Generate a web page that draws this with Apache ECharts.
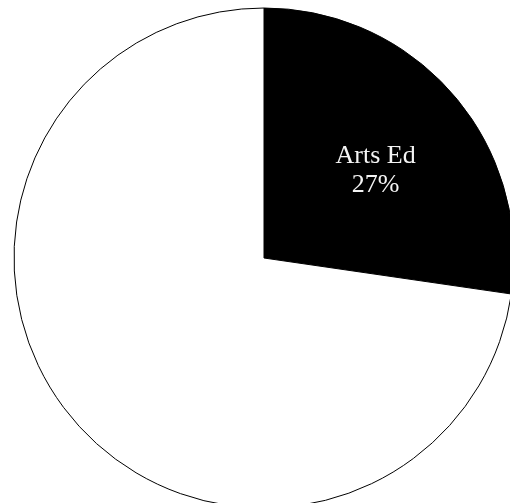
<!DOCTYPE html>
<html>
<head>
<meta charset="utf-8">
<script src="https://cdn.jsdelivr.net/npm/echarts@6/dist/echarts.min.js"></script>
<style>
html,body{margin:0;padding:0;background:#fff;}
#chart{width:510px;height:503px;}
</style>
</head>
<body>
<div id="chart"></div>
<script>
var categories = ['Arts Ed', 'Other'];
var values = [27.3, 72.7];
var fills = ['#000000', '#ffffff'];
var showLabel = [true, false];

var total = values.reduce(function (a, b) { return a + b; }, 0);
var pieData = categories.map(function (c, i) {
  return { name: c, value: values[i], itemStyle: { color: fills[i] } };
});
var labelData = categories.map(function (c, i) {
  return { name: c, value: values[i], label: { show: showLabel[i] } };
});

var chart = echarts.init(document.getElementById('chart'), null, { renderer: 'canvas' });
chart.setOption({
  animation: false,
  backgroundColor: '#ffffff',
  series: [
    {
      type: 'pie',
      center: [264, 258],
      radius: [0, 250],
      startAngle: 90,
      clockwise: true,
      silent: true,
      label: { show: false },
      labelLine: { show: false },
      itemStyle: { borderColor: '#000000', borderWidth: 1 },
      data: pieData
    },
    {
      type: 'pie',
      center: [264, 258],
      radius: [0, 284],
      startAngle: 90,
      clockwise: true,
      silent: true,
      z: 3,
      itemStyle: { color: 'rgba(0,0,0,0)', borderWidth: 0 },
      labelLine: { show: false },
      labelLayout: { dx: 2, dy: 8 },
      label: {
        show: true,
        position: 'inside',
        color: '#f4f4f4',
        fontFamily: 'Liberation Serif',
        fontSize: 26,
        lineHeight: 29,
        align: 'center',
        formatter: function (p) {
          return p.name + '\n' + Math.round(p.value / total * 100) + '%';
        }
      },
      data: labelData
    }
  ]
});
</script>
</body>
</html>
